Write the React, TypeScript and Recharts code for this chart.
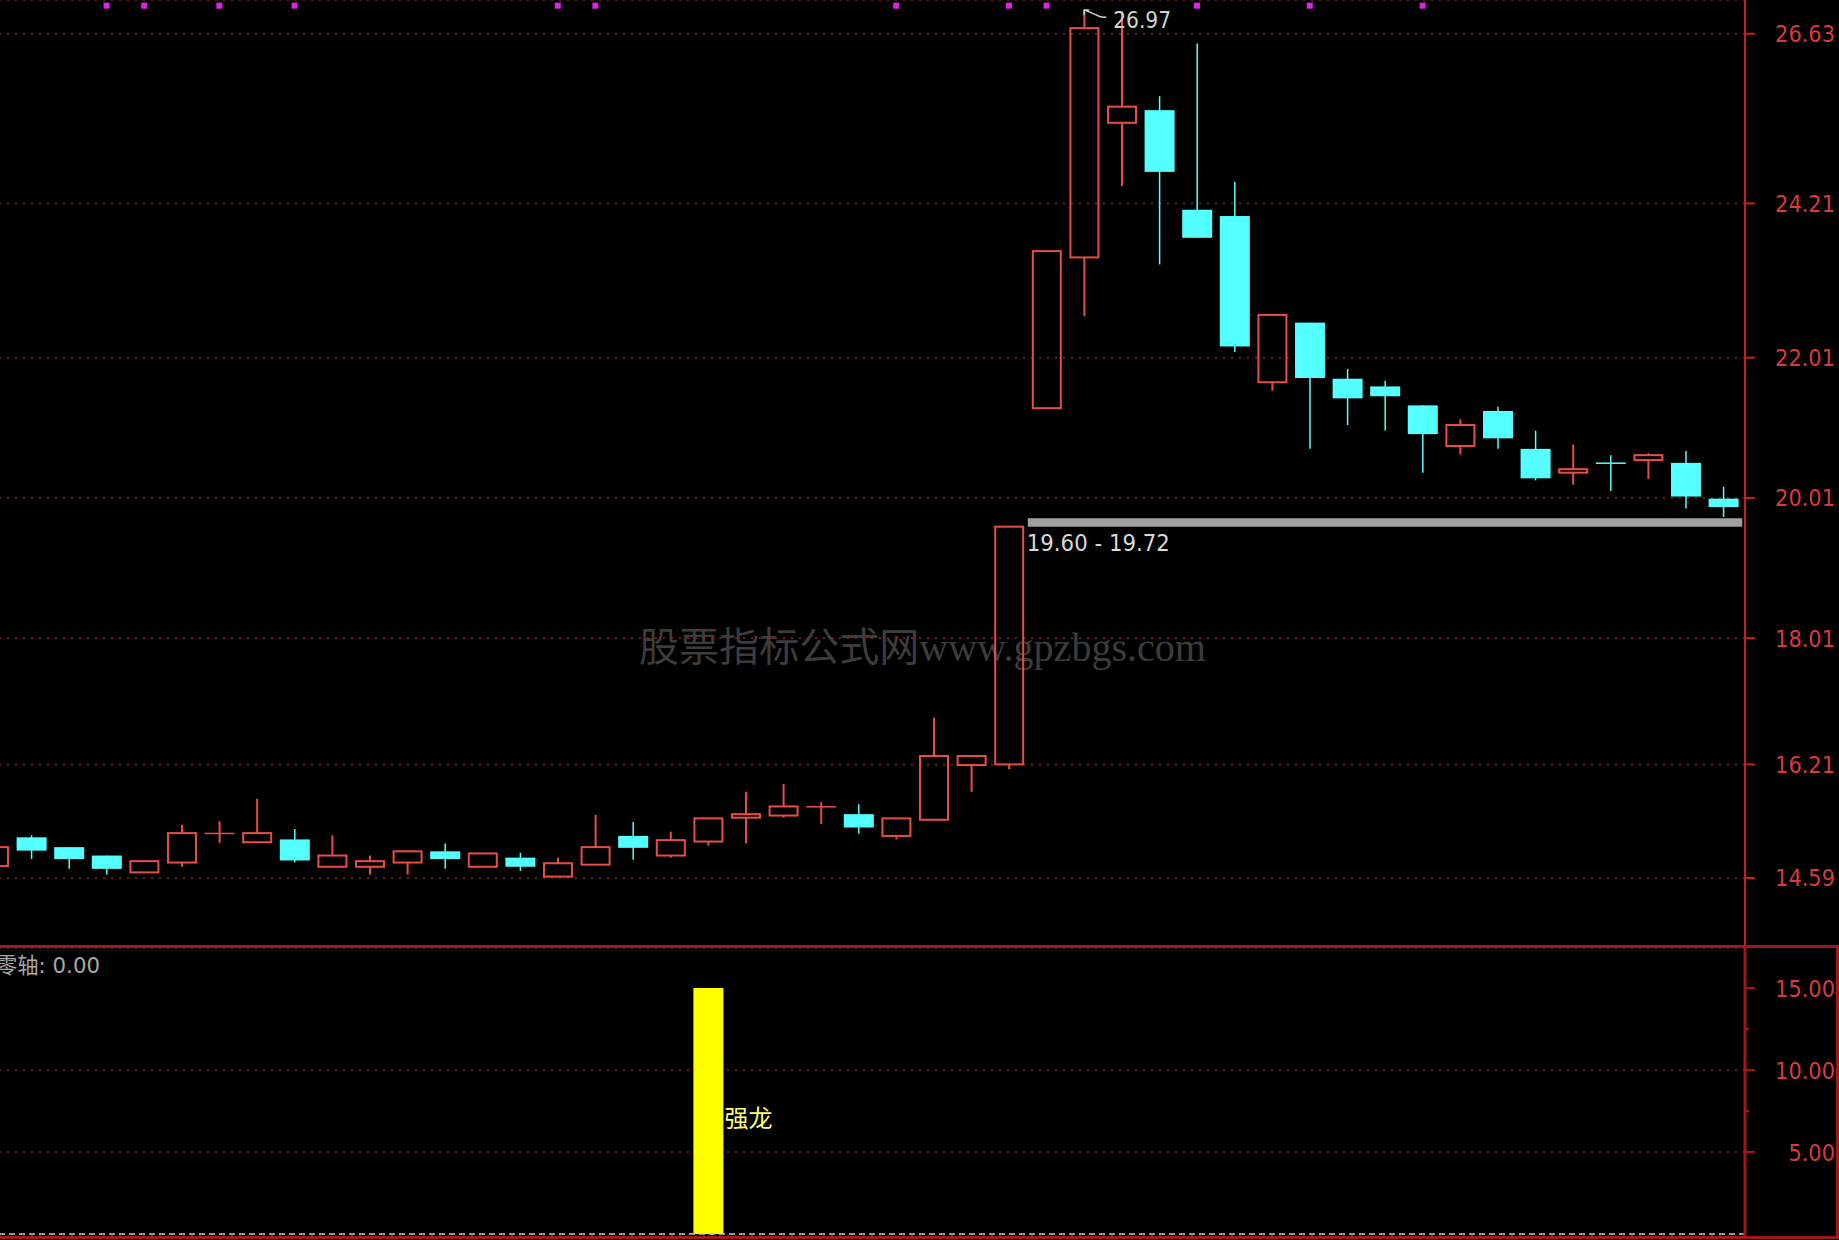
import React from 'react';
import {
  ComposedChart,
  Bar,
  Scatter,
  XAxis,
  YAxis,
  CartesianGrid,
  ReferenceArea,
  ReferenceDot,
  ReferenceLine,
  LabelList,
} from 'recharts';

const UP = '#e64e46';
const DOWN = '#54ffff';
const AXIS_RED = '#c42020';
const FRAME_RED = '#a01818';
const GRID_RED = '#8c2626';
const TICK_TEXT = '#d63c3c';
const SIGNAL_PINK = '#e022e6';
const NUM_FONT = 'DejaVu Sans';

// daily bars; the first one is cut by the left edge
const OPEN = [
  14.76, 15.17, 15.03, 14.91, 14.67, 14.81, 15.22, 15.10, 15.14, 14.75,
  14.75, 14.81, 14.97, 14.75, 14.88, 14.61, 14.78, 15.19, 14.91, 15.11,
  15.45, 15.48, 15.60, 15.50, 15.19, 15.42, 16.20, 16.21, 21.29, 23.44,
  25.36, 25.54, 24.12, 24.03, 21.66, 22.51, 21.71, 21.60, 21.33, 20.75,
  21.25, 20.71, 20.37, 20.51, 20.55, 20.51, 20.00,
];
const HIGH = [
  15.03, 15.20, 15.03, 14.91, 14.83, 15.35, 15.40, 15.72, 15.29, 15.20,
  14.91, 14.97, 15.08, 14.94, 14.95, 14.88, 15.49, 15.39, 15.25, 15.44,
  15.82, 15.93, 15.67, 15.64, 15.44, 16.88, 16.33, 19.60, 23.53, 26.97,
  26.95, 25.74, 26.49, 24.52, 22.62, 22.51, 21.85, 21.68, 21.33, 21.13,
  21.31, 20.97, 20.77, 20.62, 20.65, 20.68, 20.17,
];
const LOW = [
  14.76, 14.86, 14.72, 14.64, 14.67, 14.75, 15.09, 15.10, 14.81, 14.75,
  14.64, 14.64, 14.72, 14.75, 14.69, 14.61, 14.78, 14.85, 14.88, 15.05,
  15.08, 15.45, 15.36, 15.22, 15.14, 15.42, 15.82, 16.14, 21.29, 22.60,
  24.46, 23.34, 23.72, 22.09, 21.54, 20.71, 21.05, 20.97, 20.37, 20.63,
  20.71, 20.26, 20.20, 20.11, 20.28, 19.86, 19.74,
];
const CLOSE = [
  15.03, 14.98, 14.86, 14.72, 14.83, 15.23, 15.23, 15.23, 14.84, 14.91,
  14.83, 14.97, 14.86, 14.94, 14.75, 14.80, 15.03, 15.02, 15.13, 15.44,
  15.50, 15.61, 15.61, 15.31, 15.44, 16.33, 16.33, 19.60, 23.53, 26.71,
  25.59, 24.66, 23.72, 22.17, 22.62, 21.72, 21.43, 21.46, 20.92, 21.05,
  20.86, 20.29, 20.42, 20.50, 20.62, 20.03, 19.88,
];
// signal indicator in the lower panel
const DRAGON = [
  0, 0, 0, 0, 0, 0, 0, 0, 0, 0, 0, 0, 0, 0, 0, 0, 0, 0, 0, 15,
  0, 0, 0, 0, 0, 0, 0, 0, 0, 0, 0, 0, 0, 0, 0, 0, 0, 0, 0, 0,
  0, 0, 0, 0, 0, 0, 0,
];

const PRICE_TICKS = [14.59, 16.21, 18.01, 20.01, 22.01, 24.21, 26.63];
const DRAGON_TICKS = [5, 7.5, 10, 12.5, 15];
const DRAGON_GRID = [5, 10];
const SIGNAL_DAYS = [2, 3, 5, 7, 14, 15, 23, 26, 27, 31, 34, 37];
const SIGNAL_LEVEL = 27.03;
const GAP_LOW = 19.6;
const GAP_HIGH = 19.72;
const GAP_FROM_DAY = 27;
const PEAK_DAY = 28;
const PEAK = 26.97;

const bars = OPEN.map((open, i) => ({
  day: i - 1,
  open,
  high: HIGH[i],
  low: LOW[i],
  close: CLOSE[i],
  dragon: DRAGON[i],
}));
const signals = SIGNAL_DAYS.map((day) => ({ day, sig: SIGNAL_LEVEL }));

const CHART_LEFT = -25;
const CHART_W = 1864;
const AXIS_W = 94;
const X_PAD = { left: 0, right: 2.8 };
const PRICE_DOMAIN = [13.62, 27.111];
const DRAGON_DOMAIN = [-0.122, 17.44];

// rough advance widths of DejaVu Sans, used to squeeze numbers narrow
const numWidth = (s: string, size: number) =>
  s.split('').reduce((w, c) => w + (c === '.' || c === ' ' ? 0.318 : c === '-' ? 0.361 : 0.636), 0) * size;

function NumText({ x, y, text, fill, anchor = 'start', squeeze = 0.91 }: any) {
  return (
    <text
      x={x}
      y={y}
      fill={fill}
      fontSize={23}
      fontFamily={NUM_FONT}
      textAnchor={anchor}
      textLength={numWidth(text, 23) * squeeze}
      lengthAdjust="spacingAndGlyphs"
    >
      {text}
    </text>
  );
}

function renderCandle(props: any) {
  const { x, y, width, height, payload } = props;
  const { open, close, high, low } = payload;
  const k = height / (high - low);
  const py = (v: number) => y + (high - v) * k;
  const cx = x + width / 2;
  const up = close >= open;
  const color = up ? UP : DOWN;
  const top = py(Math.max(open, close));
  const bot = py(Math.min(open, close));
  const h = bot - top;
  if (h < 1.5) {
    const mid = (top + bot) / 2;
    return (
      <g>
        <line x1={cx} y1={y} x2={cx} y2={y + height} stroke={color} strokeWidth={up ? 2 : 1.5} />
        <line x1={x} y1={mid} x2={x + width} y2={mid} stroke={color} strokeWidth={1.5} />
      </g>
    );
  }
  if (up) {
    return (
      <g>
        {top - y > 0.5 && <line x1={cx} y1={y} x2={cx} y2={top} stroke={UP} strokeWidth={2} />}
        {y + height - bot > 0.5 && (
          <line x1={cx} y1={bot} x2={cx} y2={y + height} stroke={UP} strokeWidth={2} />
        )}
        <rect x={x + 1} y={top} width={width - 2} height={h} fill="none" stroke={UP} strokeWidth={2} />
      </g>
    );
  }
  return (
    <g>
      <line x1={cx} y1={y} x2={cx} y2={y + height} stroke={DOWN} strokeWidth={1.5} />
      <rect x={x} y={top} width={width} height={h} fill={DOWN} />
    </g>
  );
}

function PriceTick(props: any) {
  const { x, y, payload } = props;
  return (
    <g>
      <line x1={x} y1={y} x2={x + 10} y2={y} stroke={AXIS_RED} strokeWidth={2} />
      <NumText x={x + 90} y={y + 8.5} text={payload.value.toFixed(2)} fill={TICK_TEXT} anchor="end" />
    </g>
  );
}

function DragonTick(props: any) {
  const { x, y, payload } = props;
  const major = payload.value % 5 === 0;
  return (
    <g>
      <line x1={x} y1={y} x2={x + (major ? 10 : 4)} y2={y} stroke={FRAME_RED} strokeWidth={2} />
      {major && (
        <NumText x={x + 90} y={y + 8.5} text={payload.value.toFixed(2)} fill={TICK_TEXT} anchor="end" />
      )}
    </g>
  );
}

function GapLabel(props: any) {
  const { viewBox } = props;
  if (!viewBox) return null;
  return (
    <NumText
      x={viewBox.x - 1}
      y={viewBox.y + viewBox.height + 24.5}
      text={`${GAP_LOW.toFixed(2)} - ${GAP_HIGH.toFixed(2)}`}
      fill="#d8d8d8"
      squeeze={0.925}
    />
  );
}

function PeakFlag(props: any) {
  const { cx, cy } = props;
  return (
    <g>
      <path
        d={`M${cx},${cy + 5} L${cx},${cy} L${cx + 5},${cy} M${cx},${cy} L${cx + 12},${cy + 5} Q${cx + 16},${cy + 8} ${cx + 22},${cy + 7}`}
        stroke="#d2d2d2"
        strokeWidth={1.5}
        fill="none"
      />
      <NumText x={cx + 29} y={cy + 18} text={PEAK.toFixed(2)} fill="#d2d2d2" squeeze={0.88} />
    </g>
  );
}

function SignalDot(props: any) {
  const { cx, cy } = props;
  return <rect x={cx - 3} y={cy - 3} width={6} height={6} fill={SIGNAL_PINK} />;
}

function DragonLabel(props: any) {
  const { x, y, width, height, value } = props;
  if (!value) return null;
  return (
    <text
      x={x + width + 1}
      y={y + height / 2 + 16}
      fill="#ffff70"
      fontSize={24}
      fontFamily="Noto Sans CJK SC"
    >
      强龙
    </text>
  );
}

export default function App() {
  return (
    <div
      style={{
        position: 'absolute',
        left: 0,
        top: 0,
        width: 1839,
        height: 1240,
        background: '#000',
        overflow: 'hidden',
      }}
    >
      <svg width={1839} height={1240} style={{ position: 'absolute', left: 0, top: 0 }}>
        <text
          x={639}
          y={661}
          fill="#3c3c3c"
          fontSize={40}
          fontFamily="'Liberation Serif', 'Noto Sans CJK SC'"
          textLength={567}
          lengthAdjust="spacingAndGlyphs"
        >
          股票指标公式网www.gpzbgs.com
        </text>
        <text
          x={-4}
          y={973}
          fill="#a8a8a8"
          fontSize={22}
          fontFamily={`${NUM_FONT}, 'Noto Sans CJK SC'`}
          textLength={104}
          lengthAdjust="spacingAndGlyphs"
        >
          零轴: 0.00
        </text>
      </svg>

      {/* price panel */}
      <div style={{ position: 'absolute', left: CHART_LEFT, top: 0 }}>
        <ComposedChart width={CHART_W} height={946} data={bars} margin={{ top: 0, right: 0, bottom: 0, left: 0 }}>
          <CartesianGrid vertical={false} stroke={GRID_RED} strokeDasharray="2 6" strokeWidth={1.5} />
          <XAxis dataKey="day" type="category" hide allowDuplicatedCategory={false} padding={X_PAD} />
          <YAxis
            orientation="right"
            width={AXIS_W}
            domain={PRICE_DOMAIN}
            allowDataOverflow
            ticks={PRICE_TICKS}
            interval={0}
            axisLine={{ stroke: AXIS_RED, strokeWidth: 2 }}
            tickLine={false}
            tickSize={0}
            tickMargin={0}
            tick={<PriceTick />}
          />
          <ReferenceArea
            x1={GAP_FROM_DAY}
            y1={GAP_LOW}
            y2={GAP_HIGH}
            fill="#a0a0a0"
            fillOpacity={1}
            stroke="none"
            label={<GapLabel />}
          />
          <Bar
            dataKey={(d: any) => [d.low, d.high]}
            barSize={30}
            shape={renderCandle}
            isAnimationActive={false}
          />
          <Scatter data={signals} dataKey="sig" shape={<SignalDot />} isAnimationActive={false} />
          <ReferenceDot x={PEAK_DAY} y={PEAK} r={2} shape={<PeakFlag />} />
        </ComposedChart>
      </div>

      {/* signal panel */}
      <div style={{ position: 'absolute', left: CHART_LEFT, top: 948 }}>
        <ComposedChart width={CHART_W} height={288} data={bars} margin={{ top: 0, right: 0, bottom: 0, left: 0 }}>
          <CartesianGrid
            vertical={false}
            yAxisId="grid"
            stroke={GRID_RED}
            strokeDasharray="2 6"
            strokeWidth={1.5}
          />
          <XAxis dataKey="day" type="category" hide allowDuplicatedCategory={false} padding={X_PAD} />
          <YAxis
            orientation="right"
            width={AXIS_W}
            domain={DRAGON_DOMAIN}
            allowDataOverflow
            ticks={DRAGON_TICKS}
            interval={0}
            axisLine={{ stroke: FRAME_RED, strokeWidth: 3 }}
            tickLine={false}
            tickSize={0}
            tickMargin={0}
            tick={<DragonTick />}
          />
          <YAxis
            yAxisId="grid"
            orientation="right"
            hide
            domain={DRAGON_DOMAIN}
            allowDataOverflow
            ticks={DRAGON_GRID}
            interval={0}
          />
          <Bar dataKey="dragon" barSize={30} fill="#ffff00" isAnimationActive={false}>
            <LabelList dataKey="dragon" content={<DragonLabel />} />
          </Bar>
          <ReferenceLine y={0} stroke="#c8c8c8" strokeDasharray="6 4" strokeWidth={1.5} />
        </ComposedChart>
      </div>

      {/* panel frame */}
      <div style={{ position: 'absolute', left: 0, top: 945, width: 1839, height: 3, background: FRAME_RED }} />
      <div style={{ position: 'absolute', left: 0, top: 1236, width: 1839, height: 3, background: FRAME_RED }} />
      <div style={{ position: 'absolute', left: 1836, top: 945, width: 3, height: 294, background: FRAME_RED }} />
    </div>
  );
}
